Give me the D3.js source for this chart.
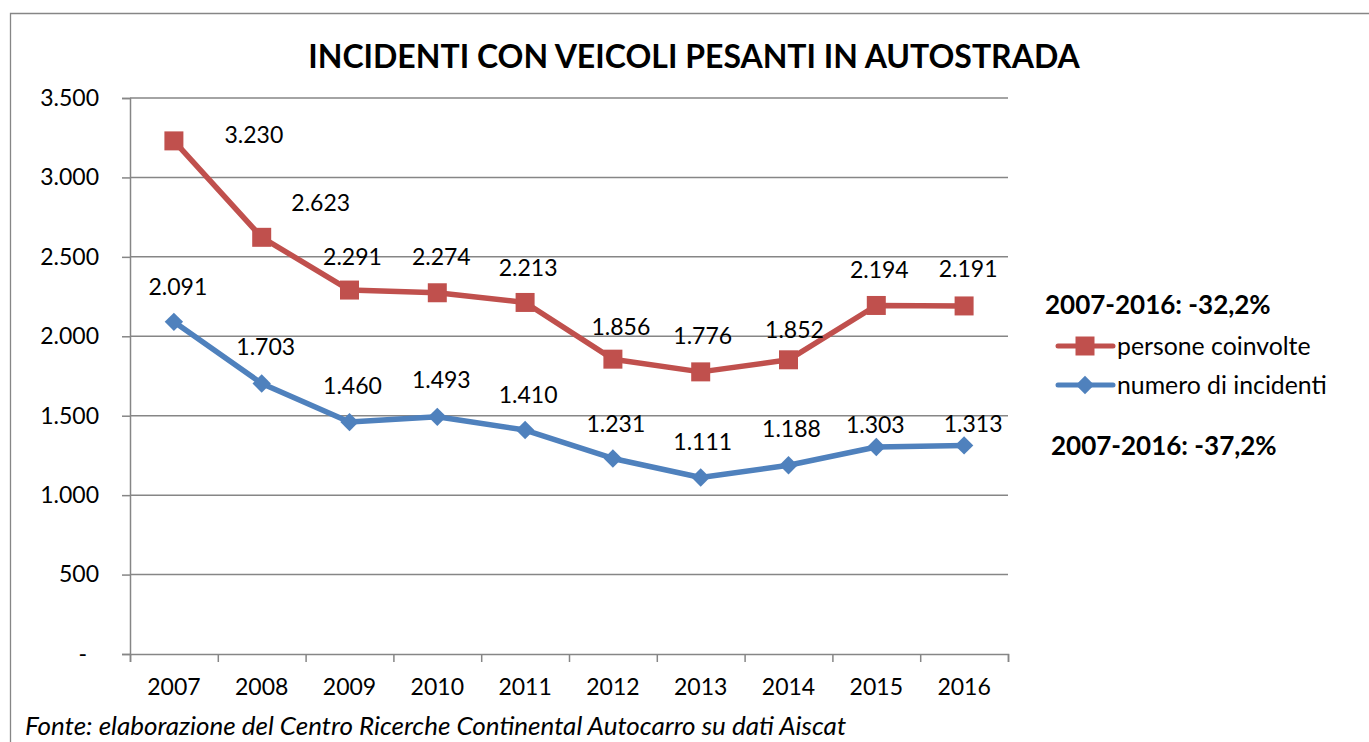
<!DOCTYPE html>
<html>
<head>
<meta charset="utf-8">
<script src="https://cdn.jsdelivr.net/npm/d3@7"></script>
<style>
  body { margin: 0; background: #fff; }
  text { font-family: "Lato", "Open Sans", sans-serif; fill: #000; }
</style>
</head>
<body>
<div id="chart"></div>
<script>
(function() {
    // Data
    var years = ["2007", "2008", "2009", "2010", "2011", "2012", "2013", "2014", "2015", "2016"];
    var persone = [3230, 2623, 2291, 2274, 2213, 1856, 1776, 1852, 2194, 2191];
    var incidenti = [2091, 1703, 1460, 1493, 1410, 1231, 1111, 1188, 1303, 1313];
    var yTicks = [0, 500, 1000, 1500, 2000, 2500, 3000, 3500];

    // Hand-placed label nudges (dx, dy from the marker), as in the original
    var personeNudge = [[80, -6], [59, -35], [3, -33], [4, -36], [3, -35], [8, -32], [2, -36], [6, -30], [3, -36], [4, -37]];
    var incidentiNudge = [[4, -35], [4, -37], [3, -36], [4, -37], [3, -35], [3, -35], [2, -36], [3, -37], [-1, -22], [9, -22]];

    var W = 1369, H = 742;
    var margin = {top: 98, right: 361, bottom: 88, left: 130},
        width = W - margin.left - margin.right,
        height = H - margin.top - margin.bottom;

    var red = "#C0504D", blue = "#4F81BD", grey = "#868686";
    var fmt = function(v) { return v === 0 ? "-" : d3.format(",")(v).replace(/,/g, "."); };

    var svg = d3.select("#chart").append("svg")
        .attr("width", W)
        .attr("height", H);

    // Outer frame (runs off the right and bottom edges)
    svg.append("path")
        .attr("d", "M10.5," + (H + 5) + "V13.5H" + (W + 5))
        .attr("fill", "none")
        .attr("stroke", grey)
        .attr("stroke-width", 1.3);

    // Title
    svg.append("text")
        .attr("x", 694)
        .attr("y", 68)
        .attr("text-anchor", "middle")
        .attr("font-size", "32px")
        .attr("font-weight", "bold")
        .text("INCIDENTI CON VEICOLI PESANTI IN AUTOSTRADA");

    var g = svg.append("g")
        .attr("transform", "translate(" + margin.left + "," + margin.top + ")");

    // Scales
    var x = d3.scaleBand().domain(years).range([0, width]);
    var xEdge = d3.scaleLinear().domain([0, years.length]).range([0, width]);
    var y = d3.scaleLinear().domain([0, 3500]).range([height, 0]);
    var cx = function(i) { return x(years[i]) + x.bandwidth() / 2; };

    // Y axis with gridlines
    var yAxis = g.append("g")
        .call(d3.axisLeft(y).tickValues(yTicks).tickSize(8).tickPadding(23).tickFormat(fmt));
    yAxis.select(".domain").attr("stroke", grey).attr("stroke-width", 1.5);
    yAxis.selectAll(".tick line").attr("stroke", grey).attr("stroke-width", 1.5);
    yAxis.selectAll(".tick text")
        .attr("font-size", "23px")
        .attr("font-family", "Lato")
        .attr("fill", "#000")
        .attr("dx", function(d) { return d === 0 ? -12 : 0; });

    g.append("g")
        .selectAll("line")
        .data(yTicks.filter(function(d) { return d > 0; }))
        .join("line")
        .attr("x1", 0)
        .attr("x2", width)
        .attr("y1", function(d) { return y(d); })
        .attr("y2", function(d) { return y(d); })
        .attr("stroke", grey)
        .attr("stroke-width", 1.5);

    // X axis: ticks on category edges, labels at centres
    var xAxis = g.append("g")
        .attr("transform", "translate(0," + height + ")")
        .call(d3.axisBottom(xEdge).tickValues(d3.range(years.length + 1)).tickSize(8).tickFormat(""));
    xAxis.select(".domain").attr("stroke", grey).attr("stroke-width", 1.5);
    xAxis.selectAll(".tick line").attr("stroke", grey).attr("stroke-width", 1.5);

    var xLabels = g.append("g")
        .attr("transform", "translate(0," + height + ")")
        .call(d3.axisBottom(x).tickSize(0).tickPadding(25));
    xLabels.select(".domain").remove();
    xLabels.selectAll("text")
        .attr("font-size", "23px")
        .attr("font-family", "Lato")
        .attr("fill", "#000");

    // Lines
    var line = d3.line()
        .x(function(d, i) { return cx(i); })
        .y(function(d) { return y(d); });

    function drawSeries(values, color, shape, nudge) {
        g.append("path")
            .datum(values)
            .attr("d", line)
            .attr("fill", "none")
            .attr("stroke", color)
            .attr("stroke-width", 5.5)
            .attr("stroke-linejoin", "round");

        g.append("g")
            .selectAll("path")
            .data(values)
            .join("path")
            .attr("transform", function(d, i) { return "translate(" + cx(i) + "," + y(d) + ")" + (shape === "diamond" ? " rotate(45)" : ""); })
            .attr("d", shape === "diamond" ? "M-6.5,-6.5H6.5V6.5H-6.5Z" : "M-9.5,-9.5H9.5V9.5H-9.5Z")
            .attr("fill", color);

        g.append("g")
            .selectAll("text")
            .data(values)
            .join("text")
            .attr("x", function(d, i) { return cx(i) + nudge[i][0]; })
            .attr("y", function(d, i) { return y(d) + nudge[i][1]; })
            .attr("dy", "0.36em")
            .attr("text-anchor", "middle")
            .attr("font-size", "23px")
            .text(fmt);
    }

    drawSeries(persone, red, "square", personeNudge);
    drawSeries(incidenti, blue, "diamond", incidentiNudge);

    // Legend
    var legend = svg.append("g");
    var items = [
        {name: "persone coinvolte", color: red, shape: "square", y: 346},
        {name: "numero di incidenti", color: blue, shape: "diamond", y: 385}
    ];
    items.forEach(function(it) {
        legend.append("line")
            .attr("x1", 1058).attr("x2", 1113)
            .attr("y1", it.y).attr("y2", it.y)
            .attr("stroke", it.color)
            .attr("stroke-width", 5)
            .attr("stroke-linecap", "round");
        legend.append("path")
            .attr("transform", "translate(1085," + it.y + ")" + (it.shape === "diamond" ? " rotate(45)" : ""))
            .attr("d", it.shape === "diamond" ? "M-6.5,-6.5H6.5V6.5H-6.5Z" : "M-9.5,-9.5H9.5V9.5H-9.5Z")
            .attr("fill", it.color);
        legend.append("text")
            .attr("x", 1117)
            .attr("y", it.y)
            .attr("dy", "0.36em")
            .attr("font-size", "24.8px")
            .text(it.name);
    });

    // Change annotations
    svg.append("text")
        .attr("x", 1045).attr("y", 305).attr("dy", "0.36em")
        .attr("font-size", "26px").attr("font-weight", "bold")
        .text("2007-2016: -32,2%");
    svg.append("text")
        .attr("x", 1051).attr("y", 446).attr("dy", "0.36em")
        .attr("font-size", "26px").attr("font-weight", "bold")
        .text("2007-2016: -37,2%");

    // Source note
    svg.append("text")
        .attr("x", 25).attr("y", 726).attr("dy", "0.36em")
        .attr("font-size", "26px").attr("font-style", "italic")
        .text("Fonte: elaborazione del Centro Ricerche Continental Autocarro su dati Aiscat");
})();
</script>
</body>
</html>
